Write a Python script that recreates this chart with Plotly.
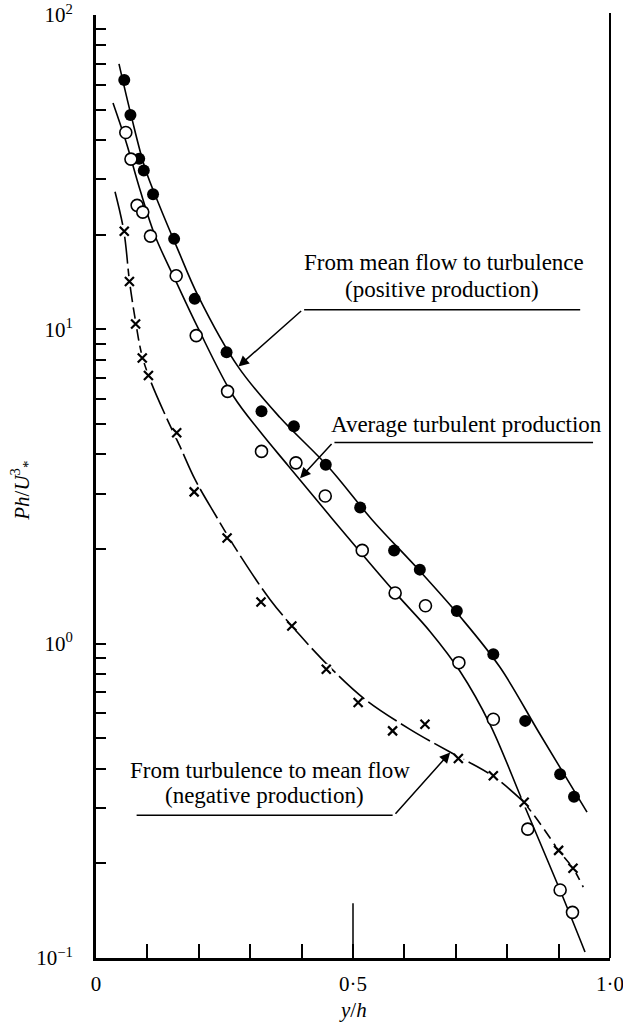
import math
import plotly.graph_objects as go

# Measured points: y/h and Ph/U*^3
pos_x = [0.055, 0.067, 0.084, 0.093, 0.111, 0.152, 0.192, 0.254, 0.322, 0.385,
         0.447, 0.514, 0.580, 0.630, 0.702, 0.773, 0.835, 0.903, 0.930]
pos_y = [62.1, 48.1, 34.9, 32.0, 26.9, 19.4, 12.5, 8.45, 5.49, 4.92,
         3.71, 2.71, 1.98, 1.72, 1.27, 0.925, 0.568, 0.384, 0.326]

avg_x = [0.058, 0.068, 0.080, 0.091, 0.106, 0.156, 0.195, 0.256, 0.322, 0.389,
         0.446, 0.518, 0.582, 0.641, 0.706, 0.773, 0.840, 0.903, 0.927]
avg_y = [42.3, 34.8, 24.8, 23.6, 19.8, 14.8, 9.55, 6.35, 4.09, 3.76,
         2.95, 1.98, 1.45, 1.32, 0.870, 0.575, 0.257, 0.1645, 0.1397]

neg_x = [0.055, 0.065, 0.077, 0.090, 0.102, 0.157, 0.191, 0.255, 0.321, 0.381,
         0.448, 0.510, 0.577, 0.640, 0.705, 0.773, 0.833, 0.900, 0.928]
neg_y = [20.5, 14.2, 10.4, 8.11, 7.13, 4.69, 3.04, 2.17, 1.356, 1.138,
         0.829, 0.650, 0.528, 0.554, 0.431, 0.380, 0.313, 0.220, 0.193]

# Hand-faired curves through each set
pos_curve_x = [0.0447, 0.0681, 0.0953, 0.1245, 0.1595, 0.1984, 0.2763, 0.3580,
               0.4514, 0.5370, 0.6304, 0.7082, 0.7860, 0.8638, 0.9553]
pos_curve_y = [69.9, 48.1, 32.6, 24.5, 17.9, 12.8, 7.61, 5.24,
               3.66, 2.48, 1.70, 1.22, 0.841, 0.515, 0.291]

avg_curve_x = [0.0331, 0.0584, 0.0856, 0.1148, 0.1556, 0.1984, 0.2665, 0.3191,
               0.3735, 0.4611, 0.5817, 0.6498, 0.7082, 0.7665, 0.8307, 0.9027,
               0.9514]
avg_curve_y = [52.5, 39.5, 27.8, 19.85, 14.2, 10.1, 6.16, 4.73,
               3.69, 2.48, 1.456, 1.094, 0.817, 0.554, 0.313, 0.1645,
               0.1045]

neg_curve_x = [0.0370, 0.0545, 0.0652, 0.0778, 0.0895, 0.1051, 0.1342, 0.1634,
               0.1926, 0.2315, 0.2802, 0.3385, 0.3969, 0.4553, 0.5233, 0.6109,
               0.6887, 0.7724, 0.8327]
neg_curve_y = [27.4, 20.4, 14.2, 10.4, 8.25, 6.92, 5.36, 4.24,
               3.33, 2.58, 1.909, 1.383, 1.063, 0.841, 0.665, 0.534,
               0.452, 0.379, 0.313]
neg_tail_x = [0.8327, 0.866, 0.900, 0.928, 0.948]
neg_tail_y = [0.313, 0.265, 0.220, 0.193, 0.168]

x_ticks = [0, 0.1, 0.2, 0.3, 0.4, 0.5, 0.6, 0.7, 0.8, 0.9, 1.0]
x_tick_text = ["0", "", "", "", "", "0·5", "", "", "", "", "1·0"]
decade_labels = {-1: "10<sup>−1</sup>", 0: "10<sup>0</sup>", 1: "10<sup>1</sup>", 2: "10<sup>2</sup>"}

SERIF = "Liberation Serif, Times New Roman, serif"
INK = "black"

y_ticks, y_tick_text = [], []
for e in (-1, 0, 1):
    for m in range(1, 10):
        y_ticks.append(m * 10 ** e)
        y_tick_text.append(decade_labels[e] if m == 1 else "")
y_ticks.append(100)
y_tick_text.append(decade_labels[2])

fig = go.Figure()


def add_curve(x, y, dash="solid", width=1.6):
    fig.add_trace(go.Scatter(
        x=x, y=y, mode="lines", hoverinfo="skip", showlegend=False,
        line=dict(color=INK, width=width, shape="spline", smoothing=1.0, dash=dash)))


add_curve(pos_curve_x, pos_curve_y)
add_curve(avg_curve_x, avg_curve_y)
add_curve(neg_curve_x, neg_curve_y, dash="34px,5px")
add_curve(neg_tail_x, neg_tail_y, dash="11px,6px")

# small white gaps in the lines behind each cross
fig.add_trace(go.Scatter(x=neg_x, y=neg_y, mode="markers", hoverinfo="skip", showlegend=False,
                         marker=dict(symbol="circle", size=11, color="white")))
fig.add_trace(go.Scatter(x=pos_x, y=pos_y, mode="markers", showlegend=False,
                         marker=dict(symbol="circle", size=12, color=INK)))
fig.add_trace(go.Scatter(x=avg_x, y=avg_y, mode="markers", showlegend=False,
                         marker=dict(symbol="circle", size=12, color="white",
                                     line=dict(color=INK, width=1.6))))
fig.add_trace(go.Scatter(x=neg_x, y=neg_y, mode="markers", showlegend=False,
                         marker=dict(symbol="x-thin", size=9, line=dict(color=INK, width=2.2))))

fig.update_layout(
    width=623, height=1026,
    margin=dict(l=96, r=13, t=15, b=68),
    paper_bgcolor="white", plot_bgcolor="white",
    showlegend=False,
    font=dict(family=SERIF, color=INK),
)
fig.update_xaxes(
    range=[0, 1], tickvals=x_ticks, ticktext=x_tick_text, automargin=False,
    ticks="inside", ticklen=14, tickwidth=1.5, tickcolor=INK,
    showline=True, linewidth=2.5, linecolor=INK,
    showgrid=False, zeroline=False, ticklabeloverflow="allow",
    tickfont=dict(family=SERIF, size=21, color=INK), ticklabelstandoff=5,
)
fig.update_yaxes(
    type="log", range=[-1, 2], tickvals=y_ticks, ticktext=y_tick_text, automargin=False,
    ticks="inside", ticklen=10, tickwidth=1.5, tickcolor=INK,
    showline=True, linewidth=3, linecolor=INK,
    showgrid=False, zeroline=False, ticklabeloverflow="allow",
    tickfont=dict(family=SERIF, size=21, color=INK), ticklabelstandoff=16,
)

# right-hand frame line and the long mid-scale tick
fig.add_shape(type="line", xref="paper", yref="paper", x0=1, x1=1, y0=0, y1=1.002,
              line=dict(color=INK, width=2))
fig.add_shape(type="line", xref="x", yref="paper", x0=0.5, x1=0.5, y0=0, y1=0.058,
              line=dict(color=INK, width=1.5))

L = math.log10
TXT = dict(family=SERIF, size=23, color=INK)


def leader(tip, elbow, far):
    # diagonal arrow to the curve plus a horizontal rule under the label
    fig.add_annotation(x=tip[0], y=L(tip[1]), ax=elbow[0], ay=L(elbow[1]),
                       xref="x", yref="y", axref="x", ayref="y", text="",
                       showarrow=True, arrowhead=2, arrowsize=1.4, arrowwidth=1.5,
                       arrowcolor=INK)
    fig.add_annotation(x=far[0], y=L(far[1]), ax=elbow[0], ay=L(elbow[1]),
                       xref="x", yref="y", axref="x", ayref="y", text="",
                       showarrow=True, arrowhead=0, arrowwidth=1.5, arrowcolor=INK)


def label(x, y, text):
    fig.add_annotation(x=x, y=L(y), xref="x", yref="y", text=text, showarrow=False,
                       font=TXT, xanchor="center", yanchor="middle")


label(0.677, 16.29, "From mean flow to turbulence")
label(0.673, 13.37, "(positive production)")
leader((0.277, 7.62), (0.402, 11.55), (0.942, 11.55))

label(0.720, 4.98, "Average turbulent production")
leader((0.397, 3.36), (0.461, 4.364), (0.967, 4.364))

label(0.3385, 0.3937, "From turbulence to mean flow")
label(0.328, 0.328, "(negative production)")
leader((0.689, 0.4505), (0.580, 0.2847), (0.079, 0.2847))

# axis titles
fig.add_annotation(x=-0.145, y=0.496, xref="paper", yref="paper", textangle=-90,
                   xanchor="center", yanchor="middle",
                   text="<i>Ph</i>/<i>U</i><sup>3</sup><sub>*</sub>", showarrow=False,
                   font=dict(family=SERIF, size=21, color=INK))
fig.add_annotation(x=0.5, y=-0.055, xref="x", yref="paper",
                   xanchor="center", yanchor="middle",
                   text="<i>y</i>/<i>h</i>", showarrow=False,
                   font=dict(family=SERIF, size=21, color=INK))

fig.write_html("out.html")
